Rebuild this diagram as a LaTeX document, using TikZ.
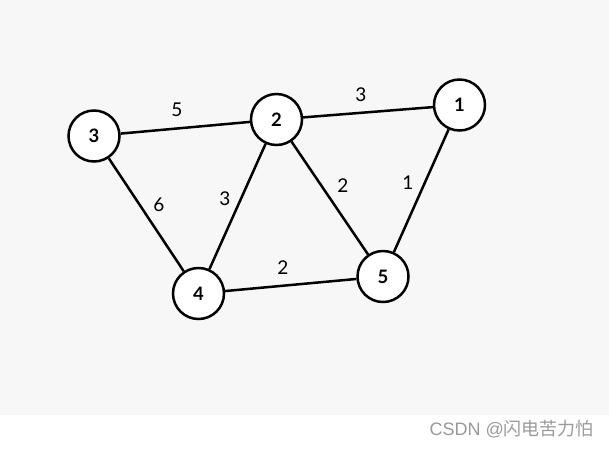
\documentclass[tikz,border=0pt]{standalone}
\usepackage{fontspec}
\setmainfont{Lato}
\newfontfamily\cjkfont{Noto Sans CJK SC}
\definecolor{bggray}{HTML}{F7F7F7}
\definecolor{wmgray}{HTML}{9A9A9A}
\begin{document}
\begin{tikzpicture}[x=1pt,y=-1pt,
  vtx/.style={circle,draw=black,fill=white,line width=2.5pt,minimum size=51pt,inner sep=0pt,font=\fontsize{18.5}{20}\selectfont\bfseries},
  edge/.style={line width=2.5pt,draw=black},
  wlab/.style={font=\fontsize{19}{21}\selectfont,inner sep=0pt}]
\useasboundingbox (0,0) rectangle (609,448);
\fill[white] (0,0) rectangle (609,448);
\fill[bggray] (0,0) rectangle (609,415);
\node[vtx] (n3) at (94,136) {3};
\node[vtx] (n2) at (276.5,119.5) {2};
\node[vtx] (n1) at (459.5,105) {1};
\node[vtx] (n4) at (198.5,293.5) {4};
\node[vtx] (n5) at (383,276.5) {5};
\draw[edge] (n3) -- (n2);
\draw[edge] (n2) -- (n1);
\draw[edge] (n3) -- (n4);
\draw[edge] (n2) -- (n4);
\draw[edge] (n2) -- (n5);
\draw[edge] (n1) -- (n5);
\draw[edge] (n4) -- (n5);
\node[wlab] (w32) at (177,110) {5};
\node[wlab] (w21) at (361,95) {3};
\node[wlab] (w34) at (159,205) {6};
\node[wlab] (w24) at (225,199) {3};
\node[wlab] (w25) at (343,186) {2};
\node[wlab] (w15) at (408,183) {1};
\node[wlab] (w45) at (283,268) {2};
\node[text=wmgray,anchor=east,inner sep=0pt,font=\fontsize{18}{20}\selectfont] (wm) at (594,429) {\fontspec{Liberation Sans}CSDN @\cjkfont 闪电苦力怕};
\end{tikzpicture}
\end{document}
